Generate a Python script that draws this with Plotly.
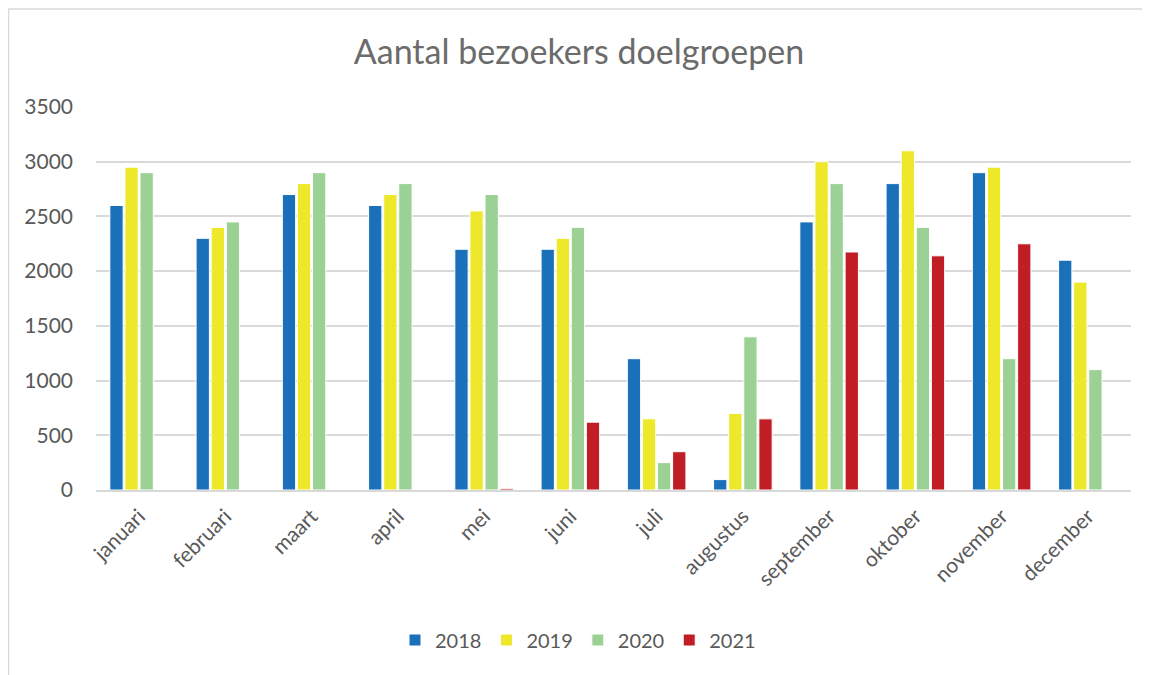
import plotly.graph_objects as go

months = ["januari", "februari", "maart", "april", "mei", "juni", "juli",
          "augustus", "september", "oktober", "november", "december"]
v2018 = [2600, 2300, 2700, 2600, 2200, 2200, 1200, 95, 2450, 2800, 2900, 2100]
v2019 = [2950, 2400, 2800, 2700, 2550, 2300, 650, 700, 3000, 3100, 2950, 1900]
v2020 = [2900, 2450, 2900, 2800, 2700, 2400, 250, 1400, 2800, 2400, 1200, 1100]
v2021 = [None, None, None, None, 15, 620, 350, 650, 2175, 2140, 2250, None]

series = [("2018", v2018, "#1B70BA"), ("2019", v2019, "#EEE82A"),
          ("2020", v2020, "#9CD196"), ("2021", v2021, "#C01E24")]

FONT = "Lato"
GRAY = "#595959"

W, H = 1142, 667
L, R, T, B = 88, 19, 99, 185
PW, PH = W - L - R, H - T - B

fig = go.Figure()
for name, vals, col in series:
    fig.add_trace(go.Bar(x=months, y=vals, name=name,
                         marker=dict(color=col, line=dict(color="white", width=1))))

fig.update_layout(
    width=W, height=H,
    paper_bgcolor="white", plot_bgcolor="white",
    barmode="group", bargap=0.3, bargroupgap=0.12,
    margin=dict(l=L, r=R, t=T, b=B),
    title=dict(text="Aantal bezoekers doelgroepen", x=0.5, xanchor="center",
               y=1 - 44 / H, yref="container", yanchor="middle",
               font=dict(family=FONT, size=34, color="#6b6b6b")),
    font=dict(family=FONT, color=GRAY),
    legend=dict(orientation="h", x=(578 - 8 - L) / PW, xanchor="center",
                y=-150 / PH, yanchor="middle",
                font=dict(family=FONT, size=20, color=GRAY), itemwidth=30,
                traceorder="normal"),
    shapes=[
        dict(type="rect", xref="paper", yref="paper",
             x0=(0.5 - L) / PW, x1=(W + 20 - L) / PW,
             y0=-(B + 20) / PH, y1=1 + (T - 1) / PH,
             line=dict(color="#D9D9D9", width=1.5), fillcolor="rgba(0,0,0,0)", layer="below"),
    ],
)
fig.update_yaxes(range=[0, 3500], dtick=500, tick0=0, showgrid=True,
                 gridcolor="#D9D9D9", gridwidth=1.5, zeroline=False,
                 showline=False, ticklabelstandoff=22,
                 tickfont=dict(family=FONT, size=21, color=GRAY))
fig.update_xaxes(showline=True, linecolor="#D9D9D9", linewidth=1.5,
                 tickangle=-45, tickfont=dict(family=FONT, size=21, color=GRAY),
                 ticks="", ticklabelstandoff=4)

fig.write_html("out.html")
